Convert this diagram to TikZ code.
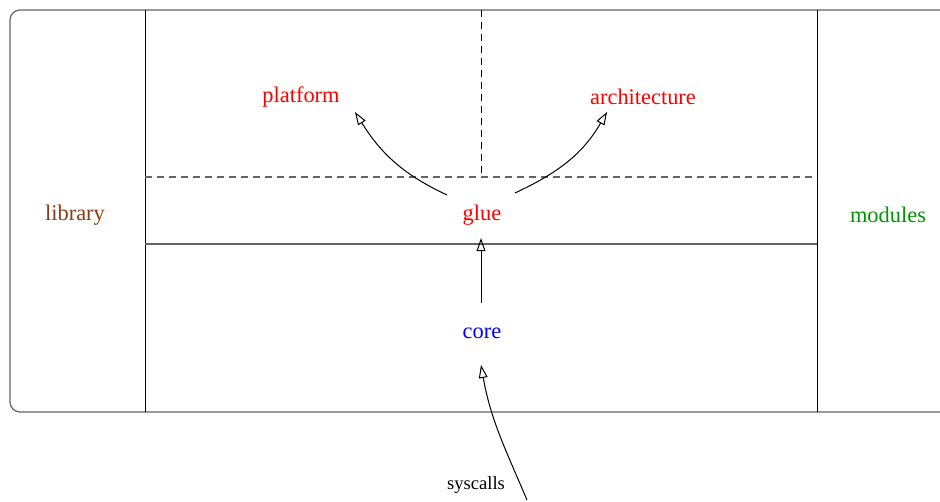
\documentclass[tikz,border=0pt]{standalone}
\usepackage{fontspec}
\setmainfont{Liberation Serif}
\usetikzlibrary{arrows.meta,calc}
\definecolor{libbrown}{RGB}{140,60,20}
\definecolor{modgreen}{RGB}{0,150,0}
\definecolor{linegray}{RGB}{100,100,100}
\tikzset{
  lbl/.style={inner sep=0pt, font=\fontsize{11.2}{13}\selectfont},
  small/.style={inner sep=0pt, font=\fontsize{9.3}{11}\selectfont},
  arr/.style={-{Triangle[open,length=6.5pt,width=4.4pt]}, line width=0.5pt},
  frame/.style={draw=linegray, line width=0.6pt},
  sep/.style={draw=black, line width=0.5pt},
  dsh/.style={dash pattern=on 3.6pt off 2.4pt, line width=0.55pt}
}
\begin{document}
\begin{tikzpicture}[x=0.5pt,y=-0.5pt]
\useasboundingbox (0,0) rectangle (940,502);
% outer frame
\draw[frame, rounded corners=5pt] (941,10) -- (10,10) -- (10,412) -- (941,412);
% vertical separators
\draw[sep] (145,10) -- (145,412);
\draw[sep] (817,10) -- (817,412);
% horizontal solid
\draw[frame] (145,244) -- (817,244);
% dashed lines
\draw[dsh, draw=linegray] (145,177) -- (817,177);
\draw[dsh, draw=black, line width=0.45pt] (481,10) -- (481,177);
% labels
\node[lbl, text=libbrown] (library) at (75,215) {library};
\node[lbl, text=modgreen] (modules) at (888,215) {modules};
\node[lbl, text=red] (platform) at (301,97) {platform};
\node[lbl, text=red] (architecture) at (643,97) {architecture};
\node[lbl, text=red] (glue) at (482,215) {glue};
\node[lbl, text=blue] (core) at (482,333) {core};
\node[small] (syscalls) at (476,485) {syscalls};
\coordinate (scstart) at (527,500);
% arrows
\draw[arr] ([shift={(-35,-20)}]glue.center) to[out=155,in=-58] ([shift={(54,15)}]platform.center);
\draw[arr] ([shift={(33,-22)}]glue.center) to[out=25,in=-120] ([shift={(-36,15)}]architecture.center);
\draw[arr] ([shift={(-1,-30)}]core.center) -- ([shift={(-1,23)}]glue.center);
\draw[arr] (scstart) to[out=113,in=-80] ([shift={(-1,32)}]core.center);
\end{tikzpicture}
\end{document}
